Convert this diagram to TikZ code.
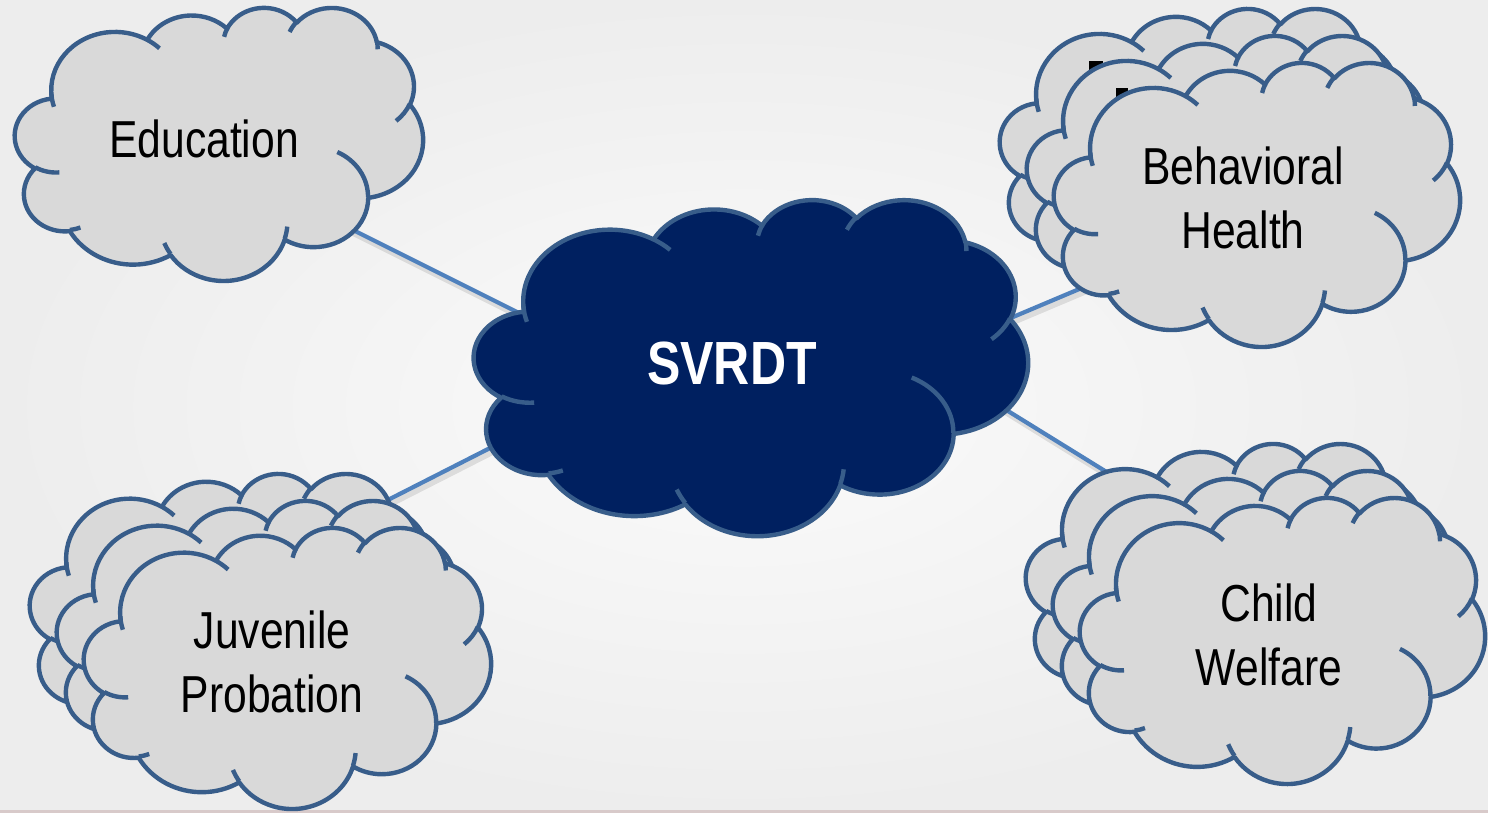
\documentclass[tikz,border=0pt]{standalone}
\usepackage{fontspec}
\setmainfont{Liberation Sans}[FakeStretch=0.82]
\definecolor{cfill}{HTML}{D9D9D9}
\definecolor{cline}{HTML}{385D8A}
\definecolor{hubfill}{HTML}{002060}
\definecolor{conn}{HTML}{4F81BD}
\definecolor{bgin}{HTML}{FBFBFB}
\definecolor{bgout}{HTML}{EDEDED}
\definecolor{stripc}{HTML}{D8CACA}
\newcommand\carc[4]{arc[x radius=#1pt,y radius=#2pt,start angle={atan2(#1*sin(#3),#2*cos(#3))},delta angle={#4+Mod(atan2(#1*sin(#3+#4),#2*cos(#3+#4))-atan2(#1*sin(#3),#2*cos(#3))-#4+180,360)-180}]}
% #1 left, #2 top, #3 width, #4 height (px), #5 fill, #6 name
\newcommand\pptcloud[6]{%
\begin{scope}[shift={(#1,#2)},x=1pt,y=1pt,xscale={#3/864},yscale={-#4/864}]
\filldraw[cloudedge,fill=#5] (39.00,143.70) \carc{67.53}{91.90}{-190.4875}{123.7805}
 \carc{53.33}{72.67}{-144.1024}{89.9452}
 \carc{43.65}{59.45}{-145.8079}{99.7230}
 \carc{48.57}{65.95}{-130.9861}{117.2417}
 \carc{53.33}{72.73}{-78.7089}{109.0269}
 \carc{67.75}{92.20}{-46.2673}{130.2690}
 \carc{57.85}{78.67}{0.6250}{114.0333}
 \carc{67.52}{92.15}{22.4516}{115.1726}
 \carc{77.20}{105.43}{66.2426}{75.7110}
 \carc{43.60}{59.18}{-274.9421}{146.7356}
 \carc{43.45}{59.45}{-246.8285}{152.5189} -- cycle;
\draw[cloudedge] (46.93,261.77) \carc{43.45}{59.45}{86.7420}{26.4295}
 (69.28,348.99) \carc{43.60}{59.18}{73.6105}{11.4475}
 (164.78,390.90) \carc{67.52}{92.15}{137.6242}{14.0811}
 (288.27,347.51) \carc{67.52}{92.15}{6.4533}{15.9984}
 (341.29,229.54) \carc{57.85}{78.67}{-70.2924}{70.9174}
 (417.98,153.54) \carc{53.33}{72.73}{30.3180}{27.7515}
 (383.24,54.26) \carc{48.57}{65.95}{-13.7443}{14.8589}
 (290.78,39.52) \carc{48.57}{65.95}{-149.1815}{18.1954}
 (221.41,47.20) \carc{43.65}{59.45}{-163.4943}{17.6864}
 (140.00,51.92) \carc{67.53}{91.90}{-66.7070}{12.3194}
 (41.27,157.89) \carc{67.53}{91.90}{157.0714}{17.0947};
\coordinate (#6) at (216,216);
\end{scope}}
\begin{document}
\begin{tikzpicture}[x=0.5pt,y=-0.5pt,
  cloudedge/.style={draw=cline,line width=2.2pt,line join=round},
  connline/.style={draw=conn,line width=2.1pt},
  connshadow/.style={draw=black,line width=3pt,opacity=0.10,transform canvas={shift={(1.2pt,-2pt)}}},
  lbl/.style={font=\fontsize{26pt}{32pt}\selectfont,align=center,inner sep=0pt,anchor=base,text=black},
  hublbl/.style={font=\bfseries\fontsize{30.5pt}{36pt}\selectfont,inner sep=0pt,anchor=base,text=white}]
\useasboundingbox (0,0) rectangle (1488,813);
\shade[inner color=bgin,outer color=bgout] (0,0) rectangle (1488,813);
\fill[stripc] (0,810) rectangle (1488,813);
% connector ends
\coordinate (eduP) at (350,228.5);
\coordinate (hubNW) at (530,318.5);
\coordinate (jpP) at (380,504);
\coordinate (hubSW) at (505,440.4);
\coordinate (bhP) at (1090,284.5);
\coordinate (hubNE) at (1000,322.5);
\coordinate (cwP) at (1115,477.2);
\coordinate (hubSE) at (995,403);
\foreach \a/\b in {eduP/hubNW,jpP/hubSW,bhP/hubNE,cwP/hubSE}{
  \draw[connshadow] (\a) -- (\b);
  \draw[connline] (\a) -- (\b);
}
% Education
\pptcloud{15}{7}{408}{273}{cfill}{eduC}
\node[lbl] (edu) at (204,157) {Education};
% Behavioral Health stack
\pptcloud{1000}{8}{406}{284}{cfill}{bhC3}
\fill[black] (1089,61) rectangle (1103,85);
\pptcloud{1027}{35}{406}{284}{cfill}{bhC2}
\fill[black] (1116,88) rectangle (1128,112);
\pptcloud{1054}{62}{406}{284}{cfill}{bhC1}
\node[lbl] (bh) at (1243,248) {Behavioral\\Health};
% Juvenile Probation stack
\pptcloud{30}{473}{407}{281}{cfill}{jpC3}
\pptcloud{57}{500}{407}{281}{cfill}{jpC2}
\pptcloud{84}{527}{407}{281}{cfill}{jpC1}
\node[lbl] (jp) at (272,712) {Juvenile\\Probation};
% Child Welfare stack
\pptcloud{1026}{443}{405}{286}{cfill}{cwC3}
\pptcloud{1053}{470}{405}{286}{cfill}{cwC2}
\pptcloud{1080}{497}{405}{286}{cfill}{cwC1}
\node[lbl] (cw) at (1269,685) {Child\\Welfare};
% hub
\pptcloud{474}{199}{554}{336}{hubfill}{hubC}
\node[hublbl] (hub) at (732,384) {SVRDT};
\end{tikzpicture}
\end{document}
